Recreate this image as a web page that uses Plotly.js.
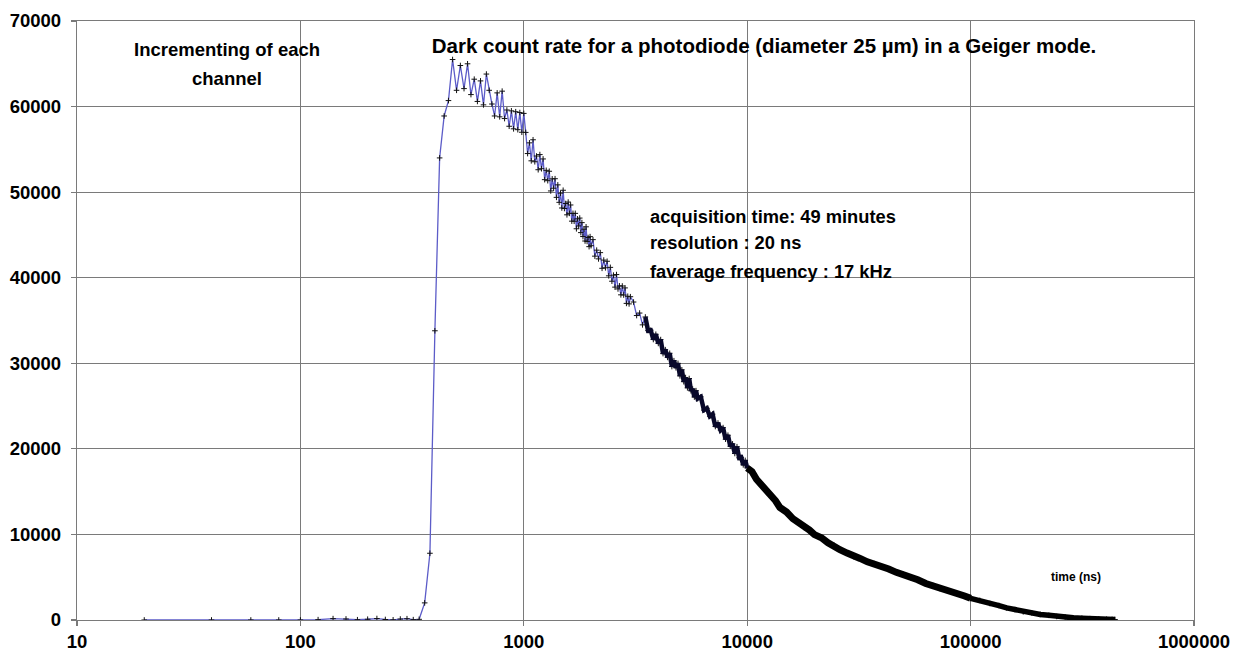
<!DOCTYPE html>
<html><head><meta charset="utf-8">
<script src="https://cdn.plot.ly/plotly-3.0.1.min.js"></script>
<style>html,body{margin:0;padding:0;background:#fff}#chart{width:1242px;height:662px}</style>
</head><body><div id="chart"></div>
<script>
// time of each channel (ns) and counts
const timeNs = [
  20,40,60,80,100,120,140,160,180,200,220,240,260,280,300,320,340,360,380,400,
  420,440,460,480,500,520,540,560,580,600,620,640,660,680,700,720,740,760,780,800,
  820,840,860,880,900,920,940,960,980,1000,
  1020,1040,1060,1080,1100,1120,1140,1160,1180,1200,1220,1240,1260,1280,1300,1320,1340,1360,1380,1400,
  1420,1440,1460,1480,1500,1520,1540,1560,1580,1600,1620,1640,1660,1680,1700,1720,1740,1760,1780,1800,
  1820,1840,1860,1880,1900,1920,1940,1960,1980,2000,
  2040,2080,2120,2160,2200,2240,2280,2320,2360,2400,2440,2480,2520,2560,2600,2640,2680,2720,2760,2800,
  2840,2880,2920,2960,3000,
  3100,3200,3300,3400,3500,3600,3700,3800,3900,4000,4100,4200,4300,4400,4500,4600,4700,4800,4900,5000,
  5100,5200,5300,5400,5500,5600,5700,5800,5900,6000,
  6200,6400,6600,6800,7000,7200,7400,7600,7800,8000,8200,8400,8600,8800,9000,9200,9400,9600,9800,10000,
  10500,11000,11800,12600,13400,14000,15000,16000,17000,18000,19000,20000,21500,23000,24500,26000,28000,30000,
  32000,34500,37000,40000,43000,46500,50000,54000,58000,63000,68000,73000,80000,87000,94000,100000,
  110000,122000,134000,145000,158000,172000,188000,205000,224000,243000,265000,288000,315000,342000,375000,406000,430000,443000
];
const counts = [
  0,0,0,0,0,40,160,120,30,90,170,60,20,110,150,40,80,2000,7800,33800,
  54000,58900,60700,65500,61900,64800,62100,65000,61400,63200,60600,63000,60200,63800,61900,60300,58900,61600,58800,61800,
  58600,59600,57700,59500,57400,59400,57300,59300,57000,59200,
  56980,54510,55760,53660,56120,53550,54220,52620,54390,52740,53880,51460,52550,51340,52440,50140,51550,50460,51570,49390,
  50850,48810,49880,48150,50220,48090,48670,47350,48840,47520,48500,46610,47520,46600,47520,45720,46880,46050,46970,45270,
  46440,44810,45670,44290,45950,44240,44700,43630,44800,43740,
  44450,42520,43220,42200,42930,41100,42060,41160,41920,40220,41210,39590,40300,38900,40370,38690,39050,38000,39030,37980,
  38810,37000,37830,36940,37780,
  37160,35580,35870,34490,35410,33820,33870,32780,33390,32320,32770,31130,31590,30690,31170,29620,30300,29480,29990,28530,
  29240,27850,28330,27130,28220,26790,26990,26060,26800,25870,
  26080,24530,24740,23810,24050,22610,23020,22190,22480,21130,21590,20300,20580,19460,20250,18950,19010,18130,18650,17770,
  17350,16450,15640,14600,13930,13150,12620,11840,11420,10800,10510,9980,9620,9030,8720,8210,7820,7400,
  7200,6800,6590,6190,5960,5570,5330,4940,4700,4270,4020,3670,3400,3050,2810,2530,
  2290,1930,1690,1420,1215,955,820,650,545,410,345,255,210,155,125,85,70,60
];

const xTickVals = [10, 100, 1000, 10000, 100000, 1000000];
const xTickText = ["10", "100", "1000", "10000", "100000", "1000000"];
const yTickVals = [0, 10000, 20000, 30000, 40000, 50000, 60000, 70000];
const yTickText = ["0", "10000", "20000", "30000", "40000", "50000", "60000", "70000"];

const titleText = "Dark count rate for a photodiode (diameter 25 µm) in a Geiger mode.";
const channelNote = ["Incrementing of each", "channel"];
const infoLines = ["acquisition time: 49 minutes", "resolution : 20 ns", "faverage frequency : 17 kHz"];
const axisNote = "time (ns)";

function pick(lo, hi) {
  const xs = [], ys = [];
  timeNs.forEach((t, i) => { if (t >= lo && t <= hi) { xs.push(t); ys.push(counts[i]); } });
  return [xs, ys];
}
const [midX, midY] = pick(3500, 10000);
const [tailX, tailY] = pick(10000, 100000);
const [endX, endY] = pick(100000, 1e7);

const FONT = "Liberation Sans, Arial, sans-serif";
const GRID = "#7a7a7a";

const traces = [
  {
    x: timeNs, y: counts, type: "scatter", mode: "lines+markers",
    line: { color: "#5c5cc8", width: 1.3 },
    marker: { symbol: "cross-thin-open", size: 4, line: { color: "#111", width: 1 }, color: "#111" },
    hoverinfo: "x+y", showlegend: false
  },
  {
    x: midX, y: midY, type: "scatter", mode: "lines",
    line: { color: "#08082a", width: 4.5 },
    hoverinfo: "skip", showlegend: false
  },
  {
    x: tailX, y: tailY, type: "scatter", mode: "lines",
    line: { color: "#000", width: 7 },
    hoverinfo: "skip", showlegend: false
  },
  {
    x: endX, y: endY, type: "scatter", mode: "lines",
    line: { color: "#000", width: 5.5 },
    hoverinfo: "skip", showlegend: false
  }
];

const ann = [];
const chY = [0.9516, 0.9048];
channelNote.forEach((t, i) => ann.push({
  text: t, xref: "paper", yref: "paper", x: 0.1343, y: chY[i], xanchor: "center", yanchor: "middle",
  showarrow: false, font: { family: FONT, size: 18.5, color: "#000", weight: "bold" }
}));
const infoY = [0.6728, 0.6294, 0.5810];
infoLines.forEach((t, i) => ann.push({
  text: t, xref: "paper", yref: "paper", x: 0.5112, y: infoY[i], xanchor: "left", yanchor: "middle",
  showarrow: false, font: { family: FONT, size: 18.3, color: "#000", weight: "bold" }
}));
ann.push({
  text: axisNote, xref: "paper", yref: "paper", x: 0.8943, y: 0.0718, xanchor: "center", yanchor: "middle",
  showarrow: false, font: { family: FONT, size: 12, color: "#000", weight: "bold" }
});

const layout = {
  width: 1242, height: 662,
  margin: { l: 77, r: 48, t: 21, b: 42, pad: 0 },
  paper_bgcolor: "#fff", plot_bgcolor: "#fff",
  title: {
    text: titleText, xref: "paper", yref: "paper", x: 0.6151, y: 0.958, xanchor: "center", yanchor: "middle",
    font: { family: FONT, size: 20.5, color: "#000", weight: "bold" }
  },
  xaxis: {
    type: "log", range: [1, 6], tickvals: xTickVals, ticktext: xTickText,
    showgrid: true, gridcolor: GRID, gridwidth: 1.2,
    showline: true, mirror: true, linecolor: GRID, linewidth: 1.2,
    ticks: "outside", ticklen: 5, tickcolor: GRID, tickwidth: 1.2,
    zeroline: false, ticklabelstandoff: 0,
    tickfont: { family: FONT, size: 18.5, color: "#000", weight: "bold" }
  },
  yaxis: {
    range: [0, 70000], tickvals: yTickVals, ticktext: yTickText,
    showgrid: true, gridcolor: GRID, gridwidth: 1.2,
    showline: true, mirror: true, linecolor: GRID, linewidth: 1.2,
    ticks: "outside", ticklen: 5, tickcolor: GRID, tickwidth: 1.2,
    zeroline: false, ticklabelstandoff: 6,
    tickfont: { family: FONT, size: 18.5, color: "#000", weight: "bold" }
  },
  annotations: ann
};

Plotly.newPlot("chart", traces, layout, { displayModeBar: false, staticPlot: true });
</script>
</body></html>
